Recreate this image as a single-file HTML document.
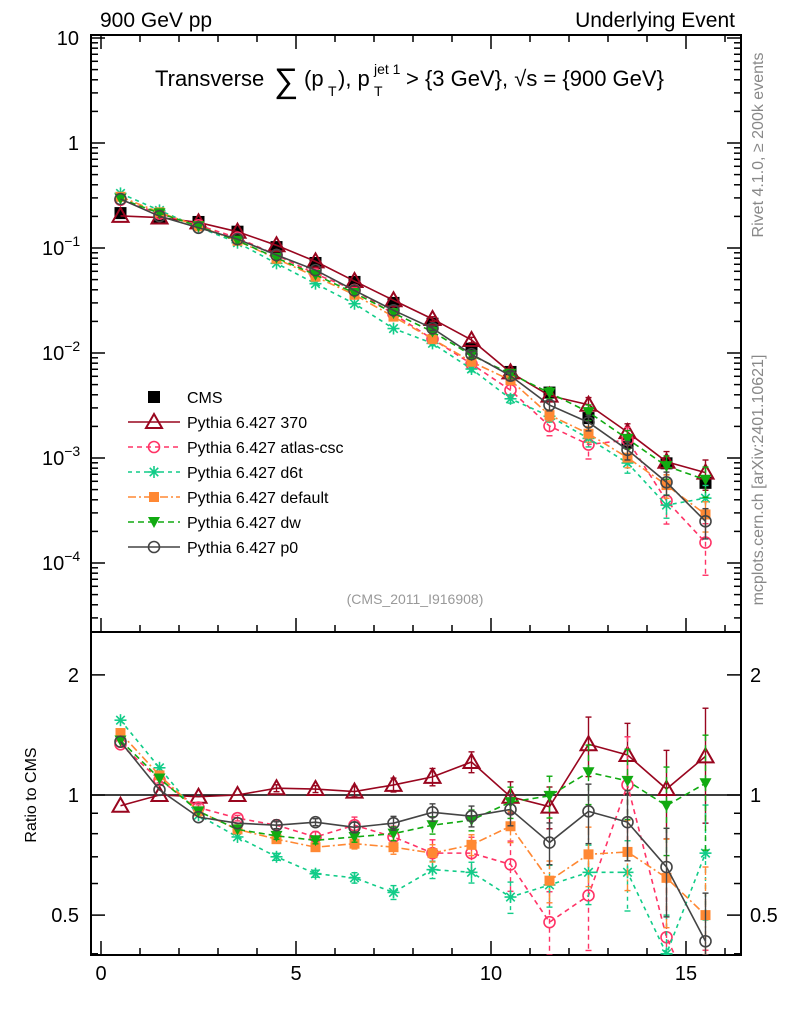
<!DOCTYPE html>
<html><head><meta charset="utf-8"><style>
html,body{margin:0;padding:0;background:#fff;overflow:hidden;width:786px;height:1024px}
svg{display:block;overflow:hidden}
svg text{font-family:"Liberation Sans",sans-serif}
</style></head><body>
<svg id="c" width="786" height="1024" xmlns="http://www.w3.org/2000/svg"></svg>
<script>
const xCats=[0.5,1.5,2.5,3.5,4.5,5.5,6.5,7.5,8.5,9.5,10.5,11.5,12.5,13.5,14.5,15.5];
const cmsVals=[0.215,0.195,0.177,0.143,0.102,0.072,0.0475,0.030,0.019,0.011,0.0066,0.0042,0.0024,0.0014,0.00089,0.00058];
const r370=[0.94,1.0,0.99,1.0,1.04,1.035,1.02,1.06,1.11,1.21,0.99,0.935,1.34,1.26,1.035,1.25];
const rAtlas=[1.34,1.09,0.93,0.875,0.84,0.785,0.84,0.785,0.715,0.715,0.67,0.48,0.56,1.06,0.44,0.27];
const rD6t=[1.54,1.17,0.89,0.785,0.70,0.635,0.62,0.57,0.65,0.64,0.555,0.595,0.64,0.64,0.40,0.715];
const rDefault=[1.43,1.12,0.91,0.82,0.775,0.74,0.755,0.74,0.715,0.75,0.835,0.61,0.71,0.72,0.62,0.50];
const rDw=[1.37,1.10,0.91,0.82,0.79,0.77,0.785,0.80,0.84,0.865,0.96,0.995,1.14,1.085,0.94,1.07];
const rP0=[1.36,1.03,0.88,0.85,0.84,0.855,0.83,0.85,0.905,0.885,0.92,0.76,0.91,0.855,0.66,0.43];
const relErr=[0.01,0.01,0.01,0.01,0.02,0.02,0.03,0.04,0.05,0.06,0.09,0.12,0.17,0.2,0.25,0.32];
const xTicks=[0,5,10,15];
const mainTicks=[[1,"10"],[0,"1"],[-1,"10"],[-2,"10"],[-3,"10"],[-4,"10"]];
const ratioTicks=[[2,"2"],[1,"1"],[0.5,"0.5"]];

const NS="http://www.w3.org/2000/svg";
const svg=document.getElementById('c');
const L=91,R=741,MT=35,MB=632,RB=955;
const X=v=>101+39*v;
const YM=v=>143-105*Math.log10(v);
const YR=r=>795-399*Math.log10(r);
const clamp=(v,a,b)=>Math.max(a,Math.min(b,v));
function el(tag,attrs,parent){const e=document.createElementNS(NS,tag);for(const k in attrs)e.setAttribute(k,attrs[k]);(parent||svg).appendChild(e);return e;}
function txt(s,attrs,parent){const e=el('text',attrs,parent);e.textContent=s;return e;}

const defs=el('defs',{});
const c1=el('clipPath',{id:'cm'},defs);el('rect',{x:L,y:MT,width:R-L,height:MB-MT},c1);
const c2=el('clipPath',{id:'cr'},defs);el('rect',{x:L,y:MB,width:R-L,height:RB-MB},c2);

const fm=el('rect',{x:L,y:MT,width:R-L,height:MB-MT,fill:'none',stroke:'#000','stroke-width':2});

const fr=el('rect',{x:L,y:MB,width:R-L,height:RB-MB,fill:'none',stroke:'#000','stroke-width':2});


for(let v=0;v<=16;v++){
  const major=v%5===0, len=major?14:7, x=X(v);
  el('line',{x1:x,x2:x,y1:RB,y2:RB-len,stroke:'#000','stroke-width':1.5});
  el('line',{x1:x,x2:x,y1:MB,y2:MB-len,stroke:'#000','stroke-width':1.5});
  el('line',{x1:x,x2:x,y1:MT,y2:MT+len,stroke:'#000','stroke-width':1.5});
}
xTicks.forEach(v=>{const t=txt(String(v),{x:X(v),y:980,'font-size':20,'text-anchor':'middle'});
});

for(let d=-5;d<=1;d++){for(let m=1;m<10;m++){const v=m*Math.pow(10,d);const y=YM(v);if(y<MT||y>MB)continue;
 const len=m===1?14:7;
 el('line',{x1:L,x2:L+len,y1:y,y2:y,stroke:'#000','stroke-width':1.5});
 el('line',{x1:R,x2:R-len,y1:y,y2:y,stroke:'#000','stroke-width':1.5});}}
mainTicks.forEach(([d,s])=>{const y=YM(Math.pow(10,d));
 const t=txt(s,{x:d<0?70:79,y:y+7,'font-size':20,'text-anchor':'end'});
 
 if(d<0){const sp=el('tspan',{dy:-9,'font-size':14},t);sp.textContent="\u2212"+(-d);t.setAttribute('text-anchor','start');t.setAttribute('x',42);}
});
for(let d=-1;d<=0;d++){for(let m=1;m<10;m++){const v=m*Math.pow(10,d);const y=YR(v);if(y<MB||y>RB)continue;
 const len=(v===1||v===2||v===0.5)?14:7;
 el('line',{x1:L,x2:L+len,y1:y,y2:y,stroke:'#000','stroke-width':1.5});
 el('line',{x1:R,x2:R-len,y1:y,y2:y,stroke:'#000','stroke-width':1.5});}}
ratioTicks.forEach(([v,s])=>{const y=YR(v);
 const t=txt(s,{x:79,y:y+7,'font-size':20,'text-anchor':'end'});
 const t2=txt(s,{x:750,y:y+7,'font-size':20});});
el('line',{x1:L,x2:R,y1:YR(1),y2:YR(1),stroke:'#000','stroke-width':1.5});

const series=[
 {name:'pythia-370',label:'Pythia 6.427 370',r:r370,col:'#99061f',dash:'',mk:'tri'},
 {name:'pythia-atlas-csc',label:'Pythia 6.427 atlas-csc',r:rAtlas,col:'#ff3366',dash:'5,4',mk:'circ'},
 {name:'pythia-d6t',label:'Pythia 6.427 d6t',r:rD6t,col:'#11cc88',dash:'4,4',mk:'star'},
 {name:'pythia-default',label:'Pythia 6.427 default',r:rDefault,col:'#ff8833',dash:'8,3,2,3',mk:'sq'},
 {name:'pythia-dw',label:'Pythia 6.427 dw',r:rDw,col:'#11aa11',dash:'6,4',mk:'dtri'},
 {name:'pythia-p0',label:'Pythia 6.427 p0',r:rP0,col:'#444444',dash:'',mk:'ocirc'}
];
function marker(g,type,x,y,col){
 if(type==='tri')el('path',{d:`M${x},${y-8}L${x+8},${y+6}L${x-8},${y+6}Z`,fill:'#fff','fill-opacity':0,stroke:col,'stroke-width':2},g);
 else if(type==='circ'||type==='ocirc')el('circle',{cx:x,cy:y,r:5.5,fill:'none',stroke:col,'stroke-width':1.6},g);
 else if(type==='sq')el('rect',{x:x-5,y:y-5,width:10,height:10,fill:col},g);
 else if(type==='dtri')el('path',{d:`M${x-6},${y-5}L${x+6},${y-5}L${x},${y+6}Z`,fill:col},g);
 else if(type==='star'){for(let a=0;a<4;a++){const an=a*Math.PI/4;el('line',{x1:x-6*Math.cos(an),y1:y-6*Math.sin(an),x2:x+6*Math.cos(an),y2:y+6*Math.sin(an),stroke:col,'stroke-width':1.6},g);}}
 else if(type==='cms')el('rect',{x:x-6,y:y-6,width:12,height:12,fill:'#000'},g);
}
function drawSeries(s,clipId,yf,vals){
 const top=clipId==='cm'?MT:MB, bot=clipId==='cm'?MB:RB;
 const g=el('g',{'clip-path':`url(#${clipId})`});
 
 
 const pts=vals.map((v,i)=>[X(xCats[i]),yf(v)]);
 el('polyline',{points:pts.map(p=>p.join(',')).join(' '),fill:'none',stroke:s.col,'stroke-width':1.6,'stroke-dasharray':s.dash},g);
 vals.forEach((v,i)=>{const x=X(xCats[i]);const e=relErr[i]*(s.name==='pythia-atlas-csc'?1.6:1);
  const y1=clamp(yf(v*(1+e)),top,bot),y2=clamp(yf(Math.max(v*(1-e),1e-9)),top,bot);
  if(y2-y1>4){el('line',{x1:x,x2:x,y1:y1,y2:y2,stroke:s.col,'stroke-width':1.4,'stroke-dasharray':s.dash},g);
   el('line',{x1:x-3,x2:x+3,y1:y1,y2:y1,stroke:s.col,'stroke-width':1.4},g);
   el('line',{x1:x-3,x2:x+3,y1:y2,y2:y2,stroke:s.col,'stroke-width':1.4},g);}
 });
 pts.forEach(p=>{if(p[1]>top-6&&p[1]<bot+6)marker(g,s.mk,p[0],p[1],s.col);});
}
const gc=el('g',{'clip-path':'url(#cm)'});


cmsVals.forEach((v,i)=>marker(gc,'cms',X(xCats[i]),YM(v),'#000'));
series.forEach(s=>{
 drawSeries(s,'cm',YM,s.r.map((r,i)=>r*cmsVals[i]));
 drawSeries(s,'cr',YR,s.r);
});

const lg=el('g',{});
const ly0=397;
marker(lg,'cms',154,ly0,'#000');
txt('CMS',{x:187,y:ly0+6,'font-size':16},lg);
series.forEach((s,i)=>{const y=ly0+25*(i+1);
 const eg=el('g',{},lg);
 el('line',{x1:128,x2:180,y1:y,y2:y,stroke:s.col,'stroke-width':1.6,'stroke-dasharray':s.dash},eg);
 marker(eg,s.mk,154,y,s.col);
 txt(s.label,{x:187,y:y+6,'font-size':16},eg);});

let t;
t=txt('900 GeV pp',{x:100,y:27,'font-size':21});
t=txt('Underlying Event',{x:735,y:27,'font-size':21,'text-anchor':'end'});
t=txt('(CMS_2011_I916908)',{x:415,y:604,'font-size':14,fill:'#999','text-anchor':'middle'});
t=txt('Ratio to CMS',{x:0,y:0,'font-size':16,'text-anchor':'middle',transform:'translate(36,795) rotate(-90)'});
t=txt('Rivet 4.1.0, \u2265 200k events',{x:0,y:0,'font-size':16,fill:'#888','text-anchor':'middle',transform:'translate(763,145) rotate(-90)'});
t=txt('mcplots.cern.ch [arXiv:2401.10621]',{x:0,y:0,'font-size':16,fill:'#888','text-anchor':'middle',transform:'translate(763,480) rotate(-90)'});
const tg=el('g',{});
txt('Transverse',{x:155,y:86,'font-size':22},tg);
txt('\u2211',{x:274,y:92,'font-size':34},tg);
txt('(p',{x:304,y:86,'font-size':22},tg);
txt('T',{x:328,y:96,'font-size':14},tg);
txt('), p',{x:338,y:86,'font-size':22},tg);
txt('jet 1',{x:374,y:74,'font-size':14},tg);
txt('T',{x:374,y:96,'font-size':14},tg);
txt('> {3 GeV}, \u221As = {900 GeV}',{x:406,y:86,'font-size':22},tg);
</script>
</body></html>
